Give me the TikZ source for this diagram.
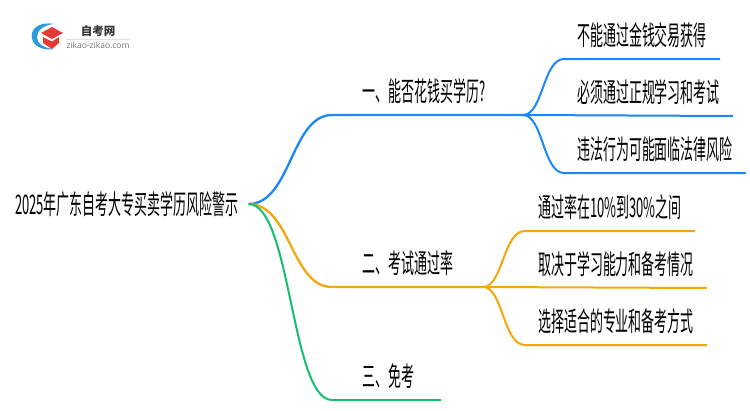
\documentclass[tikz,border=0pt]{standalone}
\usepackage{fontspec}
\setmainfont[FakeStretch=0.48]{Noto Sans CJK SC}
\newfontfamily\logocjk{Noto Sans CJK SC}
\newfontfamily\logolatin{Open Sans}
\usetikzlibrary{calc}
\usetikzlibrary{positioning}
\definecolor{bluebranch}{HTML}{1C86FB}
\definecolor{orangebranch}{HTML}{F4A70B}
\definecolor{greenbranch}{HTML}{15BF6F}
\definecolor{logoblue}{HTML}{2A9BDD}
\definecolor{logored}{HTML}{E53935}
\tikzstyle{rootnode} = [font=\fontsize{27}{27}\selectfont, inner xsep=10pt, inner ysep=0pt, text height=20.6pt, text depth=0pt]
\tikzstyle{branchnode} = [font=\fontsize{27}{27}\selectfont, inner xsep=30.5pt, inner ysep=8pt, text height=18pt, text depth=5pt]
\tikzstyle{leafnode} = [font=\fontsize{27}{27}\selectfont, inner xsep=13pt, inner ysep=8pt, text height=18pt, text depth=5pt]
\tikzstyle{bluelink} = [bluebranch, line width=2.3pt]
\tikzstyle{orangelink} = [orangebranch, line width=2.3pt]
\tikzstyle{greenlink} = [greenbranch, line width=2pt]

\begin{document}
\begin{tikzpicture}[x=1pt, y=-1pt]
  \useasboundingbox (0,0) rectangle (750,410);

  % logo
  \fill[logoblue] (54,24) .. controls (38,21) and (30,30) .. (32,38) .. controls (33,46) and (43,51) .. (54,49) .. controls (44,48) and (37,44) .. (37,37) .. controls (37,30) and (44,25) .. (54,24) -- cycle;
  \fill[logored] (41,33) -- (52,27) -- (63,33) -- (52,39) -- cycle;
  \fill[logored] (43,37) -- (52,41.5) -- (59,37) -- (59,43) -- (52,49) -- (43,43) -- cycle;
  \node (logo_name) at (98,31) {\logocjk\bfseries\fontsize{11.5}{12}\selectfont\color{black!80}自考网};
  \node (logo_url) at (98,45) {\logolatin\fontsize{8.5}{9}\selectfont\color{black!55}zikao-zikao.com};
  \draw[black!12, line width=0.6pt] (66,39) -- (130,39);

  \node[rootnode, anchor=west] (root) at (5,204) {2025年广东自考大专买卖学历风险警示};

  \node[branchnode, anchor=south west] (one) at (332,115) {一、能否花钱买学历?};
  \node[branchnode, anchor=south west] (two) at (332,287) {二、考试通过率};
  \node[branchnode, anchor=south west] (three) at (332,400) {三、免考};

  \node[leafnode, anchor=south west] (one_a) at (564,59) {不能通过金钱交易获得};
  \node[leafnode, below=57pt of one_a.south west, anchor=south west] (one_b) {必须通过正规学习和考试};
  \node[leafnode, below=57pt of one_b.south west, anchor=south west] (one_c) {违法行为可能面临法律风险};

  \node[leafnode, anchor=south west] (two_a) at (525,231) {通过率在10\%到30\%之间};
  \node[leafnode, below=57pt of two_a.south west, anchor=south west] (two_b) {取决于学习能力和备考情况};
  \node[leafnode, below=57pt of two_b.south west, anchor=south west] (two_c) {选择适合的专业和备考方式};

  \coordinate (one_hub) at (523,115);
  \coordinate (two_hub) at (483,287);
  \coordinate (three_end) at (441,400);

  \draw[bluelink] (root.east) .. controls (291,204) and (291,115) .. (one.south west) -- (one_hub);
  \draw[orangelink] (root.east) .. controls (291,204) and (291,287) .. (two.south west) -- (two_hub);
  \draw[greenlink] (root.east) .. controls (291,204) and (291,400) .. (three.south west) -- (three_end);

  \draw[bluebranch, line width=2pt] (one_hub) .. controls (543,115) and (543,59) .. (one_a.south west) -- (one_a.south east);
  \draw[bluebranch, line width=2pt] (one_hub) -- (one_b.south east);
  \draw[bluebranch, line width=2pt] (one_hub) .. controls (543,115) and (543,173) .. (one_c.south west) -- (one_c.south east);

  \draw[orangebranch, line width=2pt] (two_hub) .. controls (503,287) and (503,231) .. (two_a.south west) -- (two_a.south east);
  \draw[orangebranch, line width=2pt] (two_hub) -- (two_b.south east);
  \draw[orangebranch, line width=2pt] (two_hub) .. controls (503,287) and (503,345) .. (two_c.south west) -- (two_c.south east);
\end{tikzpicture}
\end{document}
